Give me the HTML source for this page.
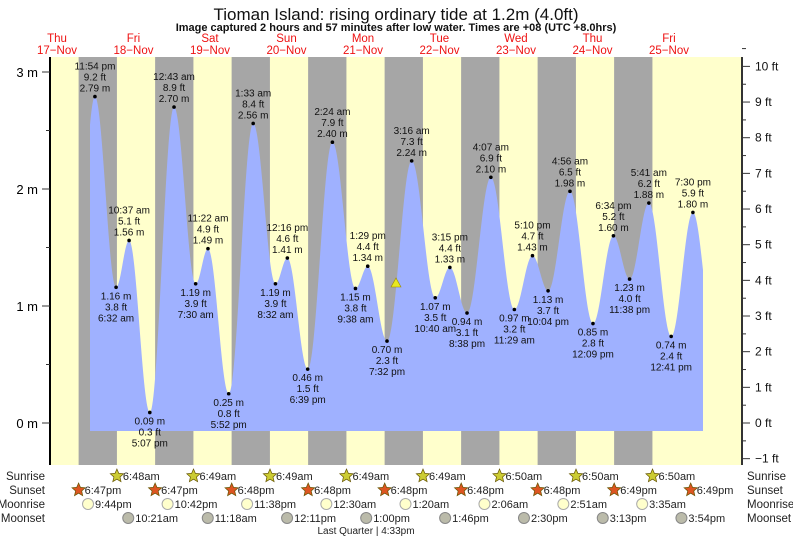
<!DOCTYPE html>
<html><head><meta charset="utf-8"><style>
body{margin:0;background:#fff;width:793px;height:539px;overflow:hidden}
svg{font-family:"Liberation Sans",sans-serif}
</style></head><body>
<svg id="s" width="793" height="539" xmlns="http://www.w3.org/2000/svg"></svg>
<script>
const S=document.getElementById('s');let h='';
const X=hr=>57+hr/24*76.5;
const Y=m=>423-m*117;
const T=(d,s)=>{let [hm,ap]=[s.slice(0,-2),s.slice(-2)];let [a,b]=hm.split(':').map(Number);if(a==12)a=0;if(ap=='pm')a+=12;return d*24-12+a+b/60;};
const sp=s=>s.slice(0,-2)+' '+s.slice(-2);
h+='<rect x="50" y="57" width="693" height="408" fill="#ffffcc"/>';
for(let k=0;k<8;k++){let a=X(T(0,'6:47pm'))+k*76.5;h+=`<rect x="${a}" y="57" width="${(T(1,'6:48am')-T(0,'6:47pm'))/24*76.5}" height="408" fill="#a6a6a6"/>`;}
const E=[[0,'11:54pm',2.79,'9.2'],[1,'6:32am',1.16,'3.8'],[1,'10:37am',1.56,'5.1'],[1,'5:07pm',0.09,'0.3'],[2,'12:43am',2.70,'8.9'],[2,'7:30am',1.19,'3.9'],[2,'11:22am',1.49,'4.9'],[2,'5:52pm',0.25,'0.8'],[3,'1:33am',2.56,'8.4'],[3,'8:32am',1.19,'3.9'],[3,'12:16pm',1.41,'4.6'],[3,'6:39pm',0.46,'1.5'],[4,'2:24am',2.40,'7.9'],[4,'9:38am',1.15,'3.8'],[4,'1:29pm',1.34,'4.4'],[4,'7:32pm',0.70,'2.3'],[5,'3:16am',2.24,'7.3'],[5,'10:40am',1.07,'3.5'],[5,'3:15pm',1.33,'4.4'],[5,'8:38pm',0.94,'3.1'],[6,'4:07am',2.10,'6.9'],[6,'11:29am',0.97,'3.2'],[6,'5:10pm',1.43,'4.7'],[6,'10:04pm',1.13,'3.7'],[7,'4:56am',1.98,'6.5'],[7,'12:09pm',0.85,'2.8'],[7,'6:34pm',1.60,'5.2'],[7,'11:38pm',1.23,'4.0'],[8,'5:41am',1.88,'6.2'],[8,'12:41pm',0.74,'2.4'],[8,'7:30pm',1.80,'5.9']];
const P=E.map(e=>[X(T(e[0],e[1])),e[2]]);
const P0=[P[0][0]-20,1.1];
const seg=(A,B,from,to)=>{let s='';for(let i=0;i<=40;i++){const t=i/40;const x=A[0]+(B[0]-A[0])*t;if(x<from-0.01||x>to+0.01)continue;s+=` L${x.toFixed(2)},${Y(A[1]+(B[1]-A[1])*(1-Math.cos(Math.PI*t))/2).toFixed(2)}`;}return s;};
const yAt=(A,B,x)=>{const t=(x-A[0])/(B[0]-A[0]);return Y(A[1]+(B[1]-A[1])*(1-Math.cos(Math.PI*t))/2);};
let d=`M90,431 L90,${yAt(P0,P[0],90).toFixed(2)}`+seg(P0,P[0],90,1e9);
for(let j=0;j<P.length-1;j++)d+=seg(P[j],P[j+1],-1e9,1e9);
const L=P[P.length-1];const PN=[L[0]+21,0.75];
d+=seg(L,PN,-1e9,703)+` L703,${yAt(L,PN,703).toFixed(2)} L703,431 Z`;
h+=`<path d="${d}" fill="#9fb1ff"/>`;
E.forEach((e,i)=>{const[x,m]=P[i];const y=Y(m);h+=`<circle cx="${x}" cy="${y}" r="1.8" fill="#000"/>`;
const hi=(i==0)||(m>P[i-1][1]);const ls=hi?[sp(e[1]),e[3]+' ft',m.toFixed(2)+' m']:[m.toFixed(2)+' m',e[3]+' ft',sp(e[1])];
ls.forEach((s,k)=>{const yy=hi?y-27+k*11:y+12+k*11;h+=`<text x="${x}" y="${yy}" font-size="10" text-anchor="middle" fill="#111">${s}</text>`;});});
h+='<polygon points="396,278 391,287 401,287" fill="#e8e820" stroke="#998800" stroke-width="0.6"/>';
h+='<line x1="50" y1="57" x2="50" y2="465" stroke="#000" stroke-width="2"/><line x1="742" y1="57" x2="742" y2="465" stroke="#333" stroke-width="2"/>';
for(let m=0;m<=3.25;m+=0.5){const y=Y(m);const maj=m%1==0;h+=`<line x1="${maj?42:46}" y1="${y}" x2="50" y2="${y}" stroke="#333"/>`;if(maj)h+=`<text x="38" y="${y+5}" font-size="13" text-anchor="end">${m} m</text>`;}
for(let f=-1;f<=10;f++){const y=423-f*0.3048*117;h+=`<line x1="742" y1="${y}" x2="750" y2="${y}" stroke="#333"/><line x1="742" y1="${y-17.8}" x2="746" y2="${y-17.8}" stroke="#333"/><text x="755" y="${y+4}" font-size="12" fill="#111">${f<0?'\u22121':f} ft</text>`;}
h+='<text x="396" y="20" font-size="17" text-anchor="middle" fill="#111">Tioman Island: rising  ordinary tide at 1.2m (4.0ft)</text>';
h+='<text x="396" y="31" font-size="11" font-weight="bold" text-anchor="middle" fill="#111">Image captured 2 hours and 57 minutes after low water. Times are +08 (UTC +8.0hrs)</text>';
const days=['Thu','Fri','Sat','Sun','Mon','Tue','Wed','Thu','Fri'];
days.forEach((dn,k)=>{const x=57+k*76.5;h+=`<text x="${x}" y="42" font-size="11.5" fill="#ee1111" text-anchor="middle">${dn}</text><text x="${x}" y="54" font-size="11.5" fill="#ee1111" text-anchor="middle">${17+k}\u2212Nov</text>`;});
['Sunrise','Sunset','Moonrise','Moonset'].forEach((s,k)=>{const y=480+k*14;h+=`<text x="45" y="${y}" font-size="11.5" text-anchor="end" fill="#222">${s}</text><text x="747" y="${y}" font-size="11.5" fill="#222">${s}</text>`;});
const star=(x,y,c)=>{let p=[];for(let i=0;i<10;i++){const r=i%2?3.2:7,a=-Math.PI/2+i*Math.PI/5;p.push((x+r*Math.cos(a)).toFixed(1)+','+(y+r*Math.sin(a)).toFixed(1));}return `<polygon points="${p.join(' ')}" fill="${c}" stroke="#665500" stroke-width="0.7"/>`;};
const sr=['6:48am','6:49am','6:49am','6:49am','6:49am','6:50am','6:50am','6:50am'];
sr.forEach((t,k)=>{const x=X(T(k+1,t));h+=star(x,476,'#cccc33')+`<text x="${x+6}" y="480" font-size="11" fill="#222">${t}</text>`;});
const ss=['6:47pm','6:47pm','6:48pm','6:48pm','6:48pm','6:48pm','6:48pm','6:49pm','6:49pm'];
ss.forEach((t,k)=>{const x=X(T(k,t));h+=star(x,490,'#dd5522')+`<text x="${x+6}" y="494" font-size="11" fill="#222">${t}</text>`;});
const mr=[[0,'9:44pm'],[1,'10:42pm'],[2,'11:38pm'],[4,'12:30am'],[5,'1:20am'],[6,'2:06am'],[7,'2:51am'],[8,'3:35am']];
mr.forEach(([dd,t])=>{const x=X(T(dd,t));h+=`<circle cx="${x}" cy="504" r="5.5" fill="#ffffcc" stroke="#aaa"/><text x="${x+7}" y="508" font-size="11" fill="#222">${t}</text>`;});
const ms=[[1,'10:21am'],[2,'11:18am'],[3,'12:11pm'],[4,'1:00pm'],[5,'1:46pm'],[6,'2:30pm'],[7,'3:13pm'],[8,'3:54pm']];
ms.forEach(([dd,t])=>{const x=X(T(dd,t));h+=`<circle cx="${x}" cy="518" r="5.5" fill="#bbbbaa" stroke="#888"/><text x="${x+7}" y="522" font-size="11" fill="#222">${t}</text>`;});
h+='<text x="366" y="534" font-size="10" text-anchor="middle" fill="#222">Last Quarter | 4:33pm</text>';
S.innerHTML=h;
</script>
</body></html>
